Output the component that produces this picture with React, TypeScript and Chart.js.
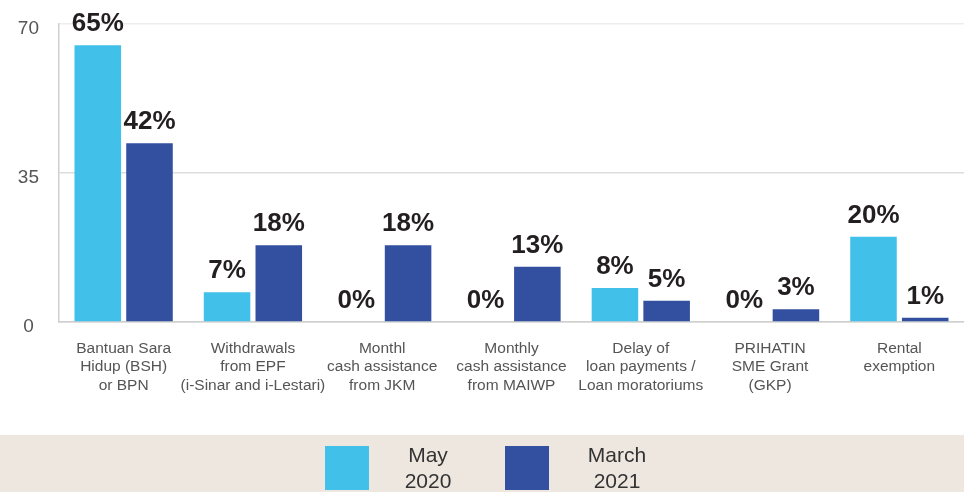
import React, { useEffect, useRef } from "react";
import { Chart, registerables } from "chart.js";

Chart.register(...registerables);

const categories: string[][] = [
  ["Bantuan Sara", "Hidup (BSH)", "or BPN"],
  ["Withdrawals", "from EPF", "(i-Sinar and i-Lestari)"],
  ["Monthl", "cash assistance", "from JKM"],
  ["Monthly", "cash assistance", "from MAIWP"],
  ["Delay of", "loan payments /", "Loan moratoriums"],
  ["PRIHATIN", "SME Grant", "(GKP)"],
  ["Rental", "exemption"],
];
const may2020: number[] = [65, 7, 0, 0, 8, 0, 20];
const march2021: number[] = [42, 18, 18, 13, 5, 3, 1];
const seriesNames: string[][] = [["May", "2020"], ["March", "2021"]];
const yTicks: number[] = [0, 35, 70];

const CYAN = "#41C0E9";
const BLUE = "#324FA0";
const FONT = "'Liberation Sans', Arial, Helvetica, sans-serif";

const valueLabels = {
  id: "valueLabels",
  afterDatasetsDraw(chart: any) {
    const ctx = chart.ctx;
    ctx.save();
    ctx.font = `bold 26px ${FONT}`;
    ctx.fillStyle = "#231f20";
    ctx.textAlign = "center";
    ctx.textBaseline = "alphabetic";
    chart.data.datasets.forEach((ds: any, di: number) => {
      const meta = chart.getDatasetMeta(di);
      meta.data.forEach((el: any, i: number) => {
        ctx.fillText(`${ds.data[i]}%`, el.x, el.y - 14);
      });
    });
    ctx.restore();
  },
};

export default function App() {
  const ref = useRef<HTMLCanvasElement>(null);
  useEffect(() => {
    if (!ref.current) return;
    const chart = new Chart(ref.current, {
      type: "bar",
      data: {
        labels: categories,
        datasets: [
          { label: seriesNames[0].join(" "), data: may2020, backgroundColor: CYAN },
          { label: seriesNames[1].join(" "), data: march2021, backgroundColor: BLUE },
        ],
      },
      options: {
        responsive: false,
        animation: false,
        devicePixelRatio: 1,
        layout: { padding: { top: 24, right: 0, left: 0, bottom: 0 } },
        plugins: {
          legend: { display: false },
          tooltip: { enabled: false },
        },
        scales: {
          x: {
            grid: { display: false, drawTicks: false },
            border: { display: true, color: "#cfcfcf", width: 1.5 },
            ticks: {
              color: "#555",
              font: { family: FONT, size: 15.5, lineHeight: 1.2 },
              padding: 17,
              maxRotation: 0,
              autoSkip: false,
            },
            afterFit: (s: any) => {
              s.height = 113;
              s.paddingLeft = 0;
              s.paddingRight = 0;
            },
          },
          y: {
            min: 0,
            max: 70,
            afterBuildTicks: (s: any) => {
              s.ticks = yTicks.map((v) => ({ value: v }));
            },
            grid: {
              drawTicks: false,
              color: (c: any) => (c.tick && c.tick.value === 70 ? "#eeeeee" : "#dddddd"),
              lineWidth: 1.5,
            },
            border: { display: true, color: "#cfcfcf", width: 1.5 },
            ticks: {
              color: "#555",
              font: { family: FONT, size: 19 },
              padding: 20,
              crossAlign: "center",
              labelOffset: 5,
            },
            afterFit: (s: any) => {
              s.width = 59;
              s.paddingTop = 0;
              s.paddingBottom = 0;
            },
          },
        },
      },
      plugins: [valueLabels],
    });
    return () => chart.destroy();
  }, []);

  const legendItems = [
    { color: CYAN, box: 325, text: 428 },
    { color: BLUE, box: 505, text: 617 },
  ];

  return (
    <div style={{ position: "fixed", left: 0, top: 0, width: 964, height: 492, background: "#fff", fontFamily: FONT }}>
      <canvas ref={ref} width={964} height={435} style={{ display: "block", width: 964, height: 435 }} />
      <div style={{ position: "absolute", left: 0, top: 435, width: 964, height: 57, background: "#EEE7DF" }} />
      {legendItems.map((it, i) => (
        <React.Fragment key={i}>
          <div style={{ position: "absolute", left: it.box, top: 446, width: 44, height: 44, background: it.color }} />
          <div
            style={{
              position: "absolute",
              left: it.text - 60,
              top: 442,
              width: 120,
              textAlign: "center",
              fontSize: 21,
              lineHeight: "26px",
              color: "#333",
            }}
          >
            {seriesNames[i][0]}
            <br />
            {seriesNames[i][1]}
          </div>
        </React.Fragment>
      ))}
    </div>
  );
}
